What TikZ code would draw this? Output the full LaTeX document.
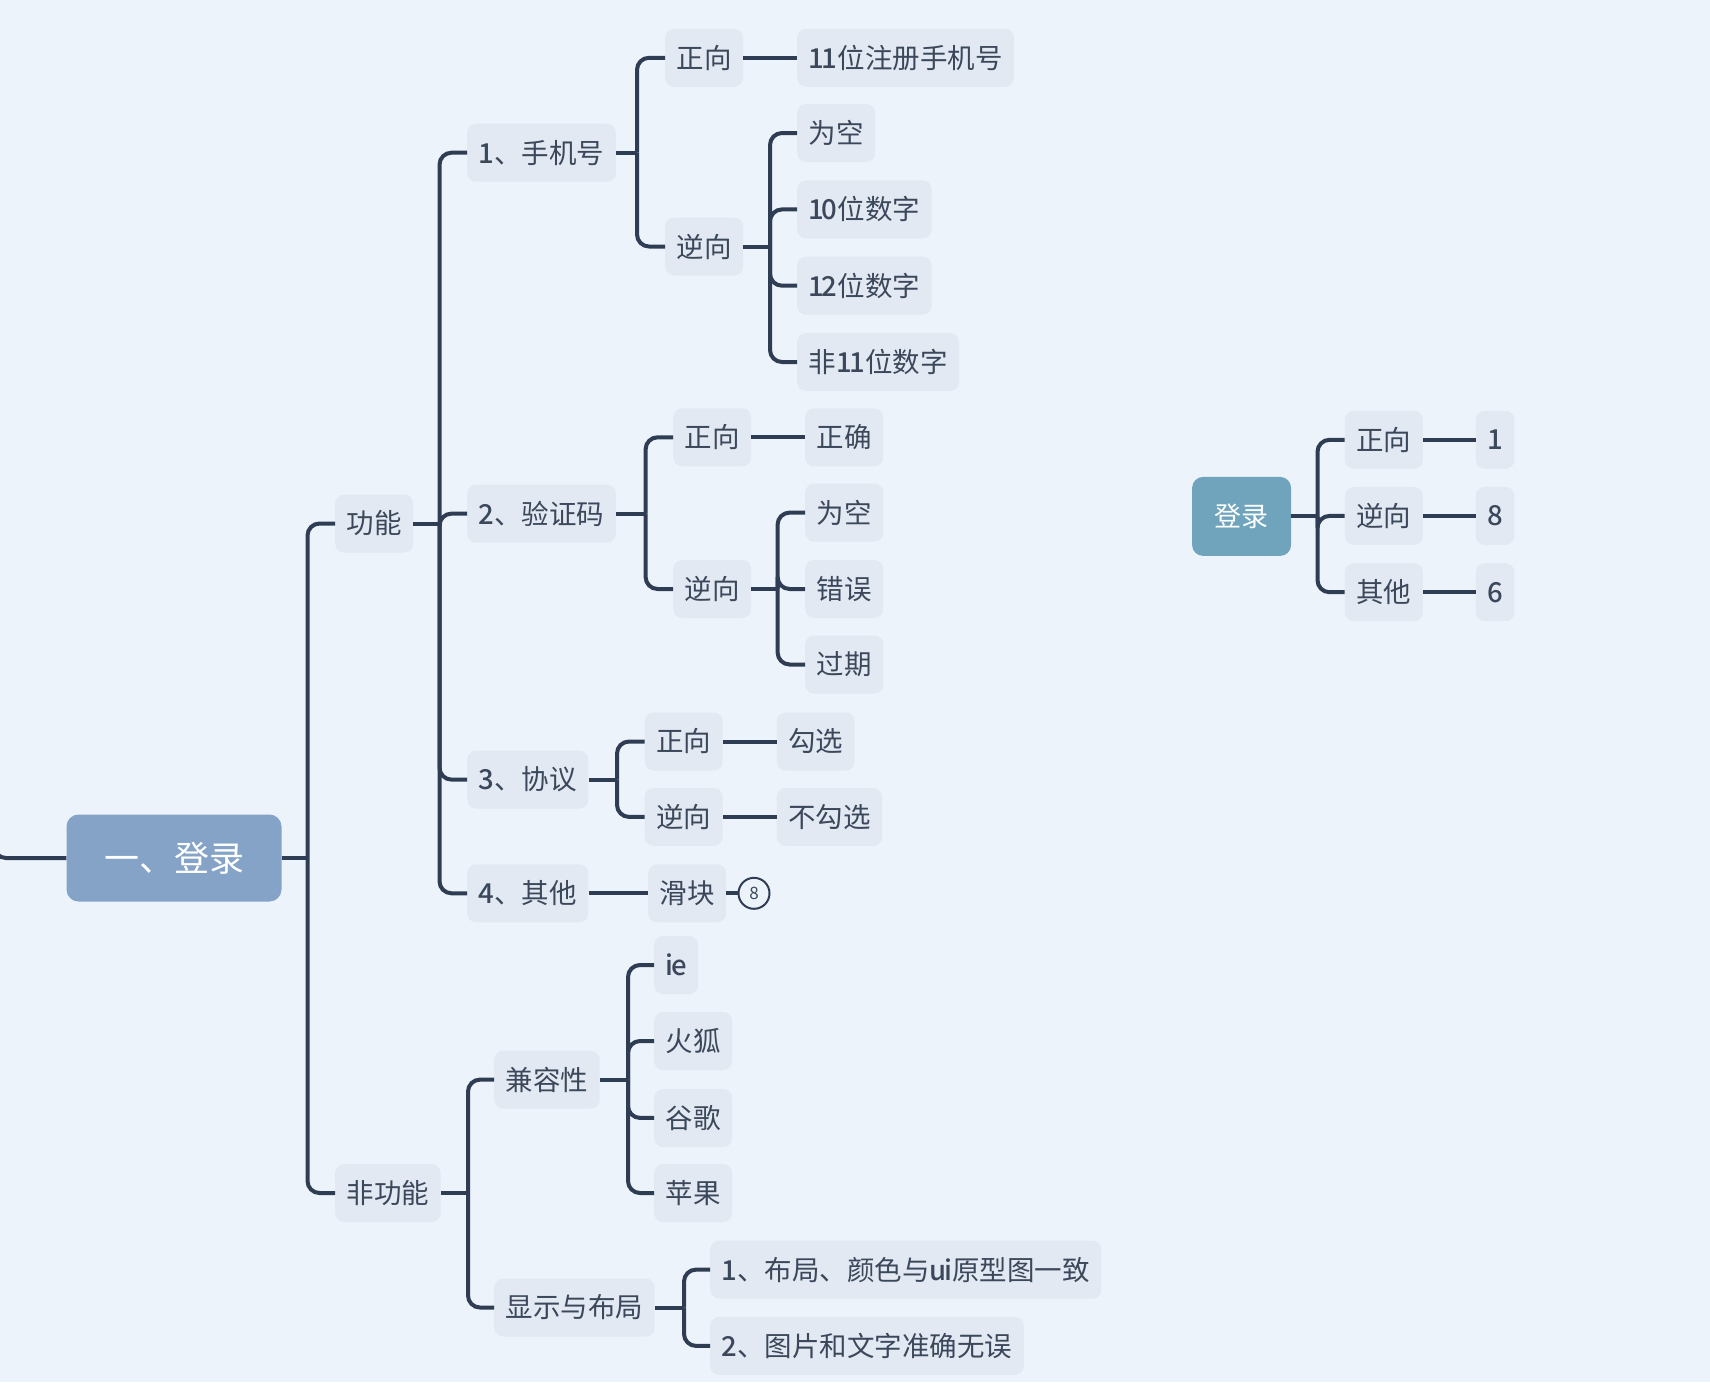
\documentclass[tikz,border=0pt]{standalone}
\usepackage{fontspec}
\setmainfont{Noto Sans CJK SC}
\newfontfamily\numfont[LetterSpace=-9]{Noto Sans CJK SC Medium}
\definecolor{bg}{HTML}{EDF3FA}
\definecolor{nodefill}{HTML}{E2E9F2}
\definecolor{txt}{HTML}{3B485B}
\definecolor{ln}{HTML}{2F3D54}
\definecolor{rootc}{HTML}{84A3C7}
\definecolor{sumc}{HTML}{6FA4BC}
% digits and latin letters are set in a heavier, tighter weight
\newcommand{\num}[1]{{\numfont #1}}
\tikzset{
  topic/.style={fill=nodefill, rounded corners=9pt, text=txt,
    font=\fontsize{27.5}{31}\selectfont, inner xsep=11.5pt, inner ysep=0pt,
    minimum height=58pt, anchor=west},
  link/.style={draw=ln, line width=4pt, rounded corners=12pt},
  stub/.style={draw=ln, line width=4pt},
}
\begin{document}
\begin{tikzpicture}[x=1pt,y=-1pt]
\fill[bg] (0,0) rectangle (1710,1382);
\useasboundingbox (0,0) rectangle (1710,1382);

% central topic
\node[fill=rootc, rounded corners=12pt, minimum width=215pt, minimum height=87pt,
      text=white, font=\fontsize{35}{40}\selectfont] (root) at (174,858) {一、登录};

% first level
\node[topic] (gn)  at (335,523.5) {功能};
\node[topic] (fgn) at (335,1193) {非功能};

% 功能 branch
\node[topic] (sj) at (467,152.7) {\num{1}、手机号};
\node[topic] (yz) at (467,513.6) {\num{2}、验证码};
\node[topic] (xy) at (467,779.6) {\num{3}、协议};
\node[topic] (qt) at (467,893.3) {\num{4}、其他};

% 手机号
\node[topic] (sjz) at (665,57.8) {正向};
\node[topic] (sjn) at (665,246.5) {逆向};
\node[topic] (sj1) at (797,57.8) {\num{11}位注册手机号};
\node[topic] (sj2) at (797,133) {为空};
\node[topic] (sj3) at (797,209.4) {\num{10}位数字};
\node[topic] (sj4) at (797,285.7) {\num{12}位数字};
\node[topic] (sj5) at (797,362) {非\num{11}位数字};

% 验证码
\node[topic] (yzz) at (673,437.3) {正向};
\node[topic] (yzn) at (673,589) {逆向};
\node[topic] (yz1) at (805,437.3) {正确};
\node[topic] (yz2) at (805,512.6) {为空};
\node[topic] (yz3) at (805,589) {错误};
\node[topic] (yz4) at (805,664.5) {过期};

% 协议
\node[topic] (xyz) at (644.5,741.5) {正向};
\node[topic] (xyn) at (644.5,816.9) {逆向};
\node[topic] (xy1) at (776.5,741.5) {勾选};
\node[topic] (xy2) at (776.5,816.9) {不勾选};

% 其他
\node[topic] (hk) at (648,893.3) {滑块};
\node[circle, draw=ln, line width=2pt, minimum size=31pt, inner sep=0pt,
      text=txt, font=\fontsize{17}{17}\selectfont] (c8) at (754,893.3) {8};

% 非功能 branch
\node[topic] (jr) at (494,1079.6) {兼容性};
\node[topic] (xs) at (494,1307.5) {显示与布局};
\node[topic] (jr1) at (654,965) {\num{ie}};
\node[topic] (jr2) at (654,1041) {火狐};
\node[topic] (jr3) at (654,1117.9) {谷歌};
\node[topic] (jr4) at (654,1193) {苹果};
\node[topic] (xs1) at (710,1269.6) {\num{1}、布局、颜色与\num{ui}原型图一致};
\node[topic] (xs2) at (710,1345.9) {\num{2}、图片和文字准确无误};

% summary tree
\node[fill=sumc, rounded corners=11pt, minimum width=99pt, minimum height=79pt,
      text=white, font=\fontsize{27}{30}\selectfont] (dl) at (1241.6,516.4) {登录};
\node[topic] (rz) at (1344.7,439.8) {正向};
\node[topic] (rn) at (1344.7,515.9) {逆向};
\node[topic] (rq) at (1344.7,592.2) {其他};
\node[topic] (r1) at (1475.6,439.8) {\num{1}};
\node[topic] (r2) at (1475.6,515.9) {\num{8}};
\node[topic] (r3) at (1475.6,592.2) {\num{6}};

% bracket columns
\coordinate (b0) at (307.5,0);
\coordinate (b1) at (439.5,0);
\coordinate (b2) at (468,0);
\coordinate (b3) at (637,0);
\coordinate (b4) at (770,0);
\coordinate (b5) at (645.6,0);
\coordinate (b6) at (777.6,0);
\coordinate (b7) at (617,0);
\coordinate (b8) at (628,0);
\coordinate (b9) at (684,0);
\coordinate (b10) at (1317.5,0);
\coordinate (lin) at (-6,700);

% incoming line at the left edge
\draw[link] (root.west) -| (lin);

% parent stubs and child elbows
\draw[stub] (root.east) -- (root.east -| b0);
\foreach \c in {gn,fgn} \draw[link] (root.east -| b0) |- (\c.west);

\draw[stub] (gn.east) -- (gn.east -| b1);
\foreach \c in {sj,yz,xy,qt} \draw[link] (gn.east -| b1) |- (\c.west);

\draw[stub] (sj.east) -- (sj.east -| b3);
\foreach \c in {sjz,sjn} \draw[link] (sj.east -| b3) |- (\c.west);
\draw[stub] (sjz.east) -- (sj1.west);
\draw[stub] (sjn.east) -- (sjn.east -| b4);
\foreach \c in {sj2,sj3,sj4,sj5} \draw[link] (sjn.east -| b4) |- (\c.west);

\draw[stub] (yz.east) -- (yz.east -| b5);
\foreach \c in {yzz,yzn} \draw[link] (yz.east -| b5) |- (\c.west);
\draw[stub] (yzz.east) -- (yz1.west);
\draw[stub] (yzn.east) -- (yzn.east -| b6);
\foreach \c in {yz2,yz3,yz4} \draw[link] (yzn.east -| b6) |- (\c.west);

\draw[stub] (xy.east) -- (xy.east -| b7);
\foreach \c in {xyz,xyn} \draw[link] (xy.east -| b7) |- (\c.west);
\draw[stub] (xyz.east) -- (xy1.west);
\draw[stub] (xyn.east) -- (xy2.west);

\draw[stub] (qt.east) -- (hk.west);
\draw[stub] (hk.east) -- (c8.west);

\draw[stub] (fgn.east) -- (fgn.east -| b2);
\foreach \c in {jr,xs} \draw[link] (fgn.east -| b2) |- (\c.west);
\draw[stub] (jr.east) -- (jr.east -| b8);
\foreach \c in {jr1,jr2,jr3,jr4} \draw[link] (jr.east -| b8) |- (\c.west);
\draw[stub] (xs.east) -- (xs.east -| b9);
\foreach \c in {xs1,xs2} \draw[link] (xs.east -| b9) |- (\c.west);

\draw[stub] (dl.east) -- (dl.east -| b10);
\foreach \c in {rz,rn,rq} \draw[link] (dl.east -| b10) |- (\c.west);
\draw[stub] (rz.east) -- (r1.west);
\draw[stub] (rn.east) -- (r2.west);
\draw[stub] (rq.east) -- (r3.west);
\end{tikzpicture}
\end{document}
